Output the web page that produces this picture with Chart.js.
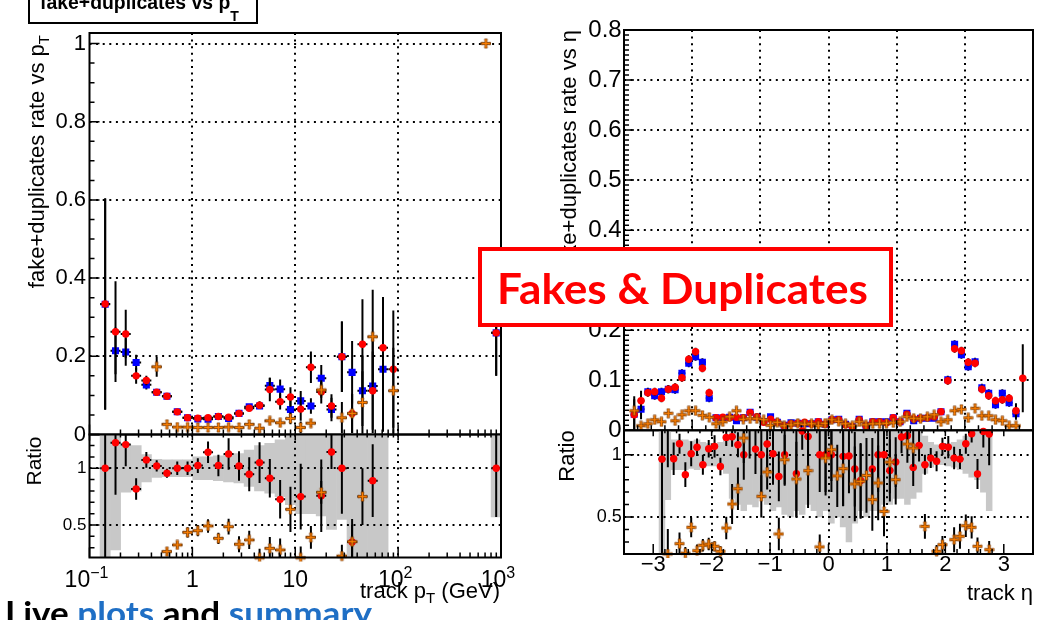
<!DOCTYPE html>
<html>
<head>
<meta charset="utf-8">
<title>Fakes &amp; Duplicates</title>
<script src="https://cdn.jsdelivr.net/npm/chart.js@4.4.1/dist/chart.umd.min.js"></script>
<style>
  html, body { margin: 0; padding: 0; background: #fff; }
  #page { position: relative; width: 1062px; height: 620px; overflow: hidden; background: #fff; }
  #page canvas { position: absolute; left: 0; top: 0; }
  #ov { position: absolute; left: 0; top: 0; pointer-events: none; }
</style>
</head>
<body>
<div id="page">
  <canvas id="ptTop" width="1062" height="620"></canvas>
  <canvas id="ptRatio" width="1062" height="620"></canvas>
  <canvas id="etaTop" width="1062" height="620"></canvas>
  <canvas id="etaRatio" width="1062" height="620"></canvas>
  <svg id="ov" width="1062" height="620" font-family="'Liberation Sans', Arial, Helvetica, sans-serif">
    <defs>
      <clipPath id="clipLeft"><rect x="22" y="0" width="480" height="620"/></clipPath>
      <clipPath id="clipRight"><rect x="560" y="0" width="502" height="620"/></clipPath>
    </defs>
    <!-- histogram title box -->
    <rect x="29" y="-10" width="228" height="33" fill="#fff" stroke="#000" stroke-width="2"/>
    <text x="40" y="9" font-size="19.4" font-weight="bold">fake+duplicates vs p<tspan font-size="14" dy="12">T</tspan></text>
    <!-- axis titles -->
    <g clip-path="url(#clipLeft)">
      <text transform="translate(44,35) rotate(-90)" text-anchor="end" font-size="22">fake+duplicates rate vs p<tspan font-size="15" dy="5">T</tspan></text>
    </g>
    <text transform="translate(41,461) rotate(-90)" text-anchor="middle" font-size="21">Ratio</text>
    <text x="500" y="598" text-anchor="end" font-size="22">track p<tspan font-size="15" dy="5">T</tspan><tspan dy="-5"> (GeV)</tspan></text>
    <g clip-path="url(#clipRight)">
      <text transform="translate(576,30) rotate(-90)" text-anchor="end" font-size="22">fake+duplicates rate vs η</text>
    </g>
    <text transform="translate(574,456) rotate(-90)" text-anchor="middle" font-size="22">Ratio</text>
    <text x="1033" y="600" text-anchor="end" font-size="22">track η</text>
    <!-- slide annotations -->
    <rect x="480" y="249" width="411" height="76" fill="#fff" stroke="#ff0000" stroke-width="4"/>
    <text x="497" y="304" font-family="Lato, 'Open Sans', sans-serif" font-weight="bold" font-size="42" fill="#ff0000" textLength="371" lengthAdjust="spacingAndGlyphs">Fakes &amp; Duplicates</text>
    <text x="5" y="625" font-family="Lato, 'Open Sans', sans-serif" font-weight="bold" font-size="32" textLength="367" lengthAdjust="spacingAndGlyphs"><tspan fill="#000">Live </tspan><tspan fill="#1f6fc5">plots</tspan><tspan fill="#000"> and </tspan><tspan fill="#1f6fc5">summary</tspan></text>
  </svg>
</div>
<script>
// ---------------- track pT binning (GeV, bin centres) and axis labels ----------------
const ptBins = [0.142, 0.179, 0.225, 0.284, 0.357, 0.450, 0.566, 0.713, 0.898, 1.13,
                1.42, 1.79, 2.25, 2.84, 3.57, 4.50, 5.66, 7.13, 8.98, 11.3,
                14.2, 17.9, 22.5, 28.4, 35.7, 45.0, 56.6, 71.3, 89.8, 713, 898];
const ptTickValues = [0.1, 1, 10, 100, 1000];
const ptTickBase   = ['10', '1', '10', '10', '10'];
const ptTickExp    = ['−1', '', '', '2', '3'];

// fake+duplicates rate vs pT: reference (blue), new (red), alternative (orange)
const ratePtRef = [0.333, 0.214, 0.211, 0.184, 0.127, 0.108, 0.098, 0.058, 0.043, 0.040,
                   0.039, 0.046, 0.041, 0.054, 0.071, 0.073, 0.125, 0.116, 0.064, 0.086,
                   0.073, 0.144, 0.064, 0.199, 0.159, 0.112, 0.124, 0.167, null, null, 0.26];
const errPtRef  = [0.27, 0.06, 0.035, 0.02, 0.012, 0.008, 0.006, 0.004, 0.003, 0.003,
                   0.003, 0.003, 0.003, 0.004, 0.006, 0.008, 0.02, 0.025, 0.025, 0.025,
                   0.02, 0.034, 0.03, 0.09, 0.08, 0.09, 0.12, 0.16, null, null, 0.11];
const ratePtNew = [0.334, 0.263, 0.257, 0.150, 0.138, 0.108, 0.098, 0.058, 0.043, 0.042,
                   0.043, 0.046, 0.044, 0.054, 0.067, 0.075, 0.115, 0.084, 0.096, 0.065,
                   0.172, 0.109, 0.073, 0.199, 0.054, 0.231, 0.112, 0.222, 0.167, null, 0.26];
const errPtNew  = [0.27, 0.129, 0.062, 0.02, 0.012, 0.008, 0.006, 0.004, 0.003, 0.003,
                   0.003, 0.003, 0.003, 0.004, 0.008, 0.01, 0.03, 0.02, 0.025, 0.03,
                   0.04, 0.03, 0.03, 0.09, 0.05, 0.115, 0.1, 0.13, 0.15, null, 0.11];
const ratePtAlt = [null, null, null, null, null, 0.173, 0.026, 0.019, 0.019, 0.018,
                   0.018, 0.018, 0.019, 0.018, 0.026, 0.016, 0.035, 0.030, 0.041, 0.018,
                   0.029, 0.114, null, 0.043, 0.054, 0.082, 0.250, null, 0.112, 1.0, null];
const errPtAlt  = [null, null, null, null, null, 0.025, 0.004, 0.003, 0.003, 0.003,
                   0.003, 0.003, 0.003, 0.003, 0.005, 0.004, 0.008, 0.008, 0.015, 0.015,
                   0.01, 0.02, null, 0.04, 0.05, 0.08, 0.12, null, 0.11, 0.0, null];

// ratio to reference vs pT, and relative reference uncertainty (grey band)
const ratioPtNew    = [1.0, 1.226, 1.209, 0.818, 1.074, 1.021, 0.956, 1.0, 1.0, 1.024,
                       1.141, 1.024, 1.126, 1.02, 0.947, 1.05, 0.912, 0.726, 1.5, 0.75,
                       2.36, 0.757, 1.144, 1.0, 0.35, 2.06, 0.891, null, null, null, 1.0];
const errRatioPtNew = [1.0, 0.46, 0.19, 0.095, 0.07, 0.05, 0.04, 0.06, 0.06, 0.065,
                       0.095, 0.095, 0.14, 0.13, 0.15, 0.18, 0.17, 0.17, 0.15, 0.29,
                       0.5, 0.32, 0.15, 0.4, 0.15, 0.5, 0.32, null, null, null, 0.43];
const ratioPtAlt    = [null, null, null, null, null, null, 0.265, 0.324, 0.435, 0.45,
                       0.491, 0.382, 0.485, 0.33, 0.368, 0.21, 0.294, 0.28, 0.638, 0.21,
                       0.391, 0.788, null, 0.226, 0.353, 0.75, null, null, null, null, null];
const errRatioPtAlt = [null, null, null, null, null, null, 0.03, 0.03, 0.045, 0.05,
                       0.06, 0.05, 0.07, 0.07, 0.08, 0.08, 0.1, 0.1, 0.2, 0.1,
                       0.1, 0.1, null, 0.1, 0.2, 0.25, null, null, null, null, null];
const bandPt        = [1.0, 0.72, 0.21, 0.2, 0.12, 0.08, 0.075, 0.075, 0.075, 0.1,
                       0.1, 0.11, 0.12, 0.13, 0.16, 0.2, 0.22, 0.25, 0.32, 0.4,
                       0.4, 0.42, 0.54, 0.45, 0.9, 0.9, 0.9, 0.9, null, null, 0.43];

// ---------------- track eta binning (bin centres) ----------------
const etaBins = [-2.85, -2.75, -2.65, -2.55, -2.45, -2.35, -2.25, -2.15, -2.05, -1.95,
                 -1.85, -1.75, -1.65, -1.55, -1.45, -1.35, -1.25, -1.15, -1.05, -0.95,
                 -0.85, -0.75, -0.65, -0.55, -0.45, -0.35, -0.25, -0.15, -0.05, 0.05,
                 0.15, 0.25, 0.35, 0.45, 0.55, 0.65, 0.75, 0.85, 0.95, 1.05,
                 1.15, 1.25, 1.35, 1.45, 1.55, 1.65, 1.75, 1.85, 1.95, 2.05,
                 2.15, 2.25, 2.35, 2.45, 2.55, 2.65, 2.75, 2.85];

const rateEtaRef = [0.032, 0.042, 0.077, 0.069, 0.077, 0.082, 0.081, 0.114, 0.134, 0.147,
                    0.136, 0.064, 0.025, 0.024, 0.026, 0.019, 0.025, 0.036, 0.026, 0.017,
                    0.027, 0.016, 0.010, 0.015, 0.014, 0.013, 0.013, 0.017, 0.012, 0.021,
                    0.022, 0.012, 0.007, 0.022, 0.010, 0.017, 0.017, 0.017, 0.025, 0.017,
                    0.034, 0.019, 0.024, 0.024, 0.024, 0.037, 0.101, 0.172, 0.151, 0.127,
                    0.137, 0.085, 0.074, 0.051, 0.074, 0.055, 0.033, null];
const errEtaRef  = [0.03, 0.02, 0.008, 0.008, 0.008, 0.008, 0.008, 0.008, 0.008, 0.008,
                    0.008, 0.008, 0.005, 0.005, 0.005, 0.005, 0.005, 0.005, 0.005, 0.005,
                    0.005, 0.005, 0.005, 0.005, 0.005, 0.005, 0.005, 0.005, 0.005, 0.005,
                    0.005, 0.005, 0.005, 0.005, 0.005, 0.005, 0.005, 0.005, 0.005, 0.005,
                    0.005, 0.005, 0.005, 0.005, 0.005, 0.006, 0.008, 0.008, 0.008, 0.008,
                    0.008, 0.008, 0.008, 0.008, 0.008, 0.008, 0.012, null];
const rateEtaNew = [0.031, 0.059, 0.075, 0.077, 0.064, 0.082, 0.086, 0.105, 0.142, 0.157,
                    0.124, 0.075, 0.025, 0.026, 0.025, 0.026, 0.025, 0.035, 0.027, 0.016,
                    0.022, 0.016, 0.009, 0.013, 0.014, 0.016, 0.013, 0.017, 0.012, 0.021,
                    0.021, 0.011, 0.007, 0.021, 0.009, 0.017, 0.017, 0.015, 0.025, 0.017,
                    0.032, 0.023, 0.024, 0.025, 0.027, 0.037, 0.099, 0.163, 0.159, 0.136,
                    0.134, 0.082, 0.069, 0.059, 0.061, 0.064, 0.039, 0.104];
const errEtaNew  = [0.037, 0.02, 0.008, 0.008, 0.008, 0.008, 0.008, 0.008, 0.008, 0.008,
                    0.008, 0.008, 0.005, 0.005, 0.005, 0.005, 0.005, 0.005, 0.005, 0.005,
                    0.005, 0.005, 0.005, 0.005, 0.005, 0.005, 0.005, 0.005, 0.005, 0.005,
                    0.005, 0.005, 0.005, 0.005, 0.005, 0.005, 0.005, 0.005, 0.005, 0.005,
                    0.005, 0.005, 0.005, 0.005, 0.005, 0.006, 0.008, 0.008, 0.008, 0.008,
                    0.008, 0.008, 0.008, 0.008, 0.008, 0.008, 0.015, 0.068];
const rateEtaAlt = [0.039, 0.009, 0.013, 0.021, 0.017, 0.034, 0.019, 0.031, 0.039, 0.039,
                    0.030, 0.026, 0.013, 0.017, 0.027, 0.039, 0.022, 0.023, 0.023, 0.021,
                    0.010, 0.016, 0.009, 0.011, 0.014, 0.012, 0.013, 0.009, 0.014, 0.021,
                    0.018, 0.013, 0.009, 0.017, 0.011, 0.013, 0.013, 0.014, 0.015, 0.017,
                    0.027, 0.024, 0.023, 0.027, 0.031, 0.017, 0.021, 0.039, 0.042, 0.025,
                    0.044, 0.029, 0.029, 0.021, 0.019, 0.009, 0.009, null];
const errEtaAlt  = [0.006, 0.004, 0.004, 0.004, 0.004, 0.004, 0.004, 0.004, 0.004, 0.004,
                    0.004, 0.004, 0.004, 0.004, 0.004, 0.004, 0.004, 0.004, 0.004, 0.004,
                    0.004, 0.004, 0.004, 0.004, 0.004, 0.004, 0.004, 0.004, 0.004, 0.004,
                    0.004, 0.004, 0.004, 0.004, 0.004, 0.004, 0.004, 0.004, 0.004, 0.004,
                    0.004, 0.004, 0.004, 0.004, 0.004, 0.004, 0.004, 0.004, 0.004, 0.004,
                    0.004, 0.004, 0.004, 0.004, 0.004, 0.004, 0.004, null];

const ratioEtaNew    = [0.965, 1.40, 0.968, 1.088, 0.84, 1.008, 1.06, 0.92, 1.048, 1.067,
                        0.906, 1.139, 1.144, 1.08, 1.0, 1.37, 1.045, 1.0, 1.086, 1.008,
                        0.826, 1.0, null, 0.848, 1.19, 1.147, null, 1.0, 1.0, 1.0,
                        null, 0.987, 0.99, 0.885, 0.794, null, 0.885, 1.0, 1.0, 0.874,
                        0.941, 1.142, 1.152, 0.898, 1.075, 0.92, 0.973, 0.947, 1.067, 1.061,
                        0.973, 0.965, 1.088, 1.168, 0.845, 1.187, 1.166, null];
const errRatioEtaNew = [0.8, 0.5, 0.13, 0.08, 0.1, 0.1, 0.07, 0.08, 0.07, 0.09,
                        0.07, 0.07, 0.08, 0.1, 0.2, 0.4, 0.2, 0.3, 0.22, 0.25,
                        0.2, 0.25, null, 0.35, 0.15, 0.3, null, 0.3, 0.3, 0.3,
                        null, 0.4, 0.3, 0.3, 0.3, null, 0.25, 0.3, 0.3, 0.25,
                        0.2, 0.13, 0.1, 0.15, 0.13, 0.08, 0.08, 0.08, 0.07, 0.09,
                        0.09, 0.08, 0.08, 0.07, 0.12, 0.13, 0.25, null];
const ratioEtaAlt    = [null, 0.203, null, 0.286, 0.21, 0.417, 0.23, 0.273, 0.283, 0.265,
                        0.225, 0.412, 0.604, 0.727, 1.134, null, null, 0.666, 0.861, null,
                        0.364, 0.96, null, 0.805, null, 0.872, null, 0.26, 0.973, 1.04,
                        0.83, 0.888, null, 0.765, 0.786, 0.834, 0.639, 0.773, 0.545, 0.941,
                        0.8, null, 1.086, 1.053, null, 0.425, null, 0.225, 0.278, null,
                        0.318, 0.345, 0.43, 0.417, 0.265, null, 0.238, null];
const errRatioEtaAlt = [null, 0.2, null, 0.09, 0.05, 0.08, 0.05, 0.05, 0.05, 0.04,
                        0.04, 0.09, 0.16, 0.17, 0.2, null, null, 0.17, 0.14, null,
                        0.13, 0.2, null, 0.3, null, 0.3, null, 0.1, 0.3, 0.25,
                        0.25, 0.3, null, 0.3, 0.3, 0.3, 0.25, 0.3, 0.2, 0.25,
                        0.2, null, 0.15, 0.15, null, 0.1, null, 0.05, 0.07, null,
                        0.1, 0.1, 0.09, 0.09, 0.07, null, 0.07, null];
const bandEta        = [0.85, 0.36, 0.12, 0.12, 0.12, 0.11, 0.12, 0.10, 0.09, 0.09,
                        0.10, 0.15, 0.35, 0.40, 0.45, 0.40, 0.42, 0.35, 0.40, 0.45,
                        0.42, 0.48, 0.50, 0.45, 0.48, 0.40, 0.45, 0.50, 0.45, 0.55,
                        0.50, 0.58, 0.70, 0.55, 0.45, 0.50, 0.45, 0.45, 0.40, 0.40,
                        0.35, 0.35, 0.40, 0.35, 0.30, 0.15, 0.10, 0.08, 0.08, 0.09,
                        0.10, 0.12, 0.15, 0.18, 0.20, 0.30, 0.45, null];

// ---------------- helpers ----------------
const FONT = "'Liberation Sans', Arial, Helvetica, sans-serif";
const BLUE = '#0000ff', RED = '#ff0000', ORANGE = '#ff8000', BAND = '#c8c8c8';

function points(xs, ys, es) {
  const out = [];
  xs.forEach((x, i) => { if (ys[i] != null) out.push({ x: x, y: ys[i], e: es ? es[i] : null }); });
  return out;
}
function bandBars(xs, es) {
  const out = [];
  xs.forEach((x, i) => { if (es[i] != null) out.push({ x: x, y: [1 - es[i], 1 + es[i]] }); });
  return out;
}
function range(a, b, step) {
  const out = [];
  for (let v = a; v <= b + 1e-9; v += step) out.push(Math.round(v * 1e6) / 1e6);
  return out;
}
function logMinors(lo, hi) {
  const out = [];
  for (let d = lo; d < hi; d *= 10) for (let k = 2; k <= 9; k++) out.push(d * k);
  return out;
}

// orange full-cross marker
const crossMarker = (() => {
  const c = document.createElement('canvas');
  c.width = 11; c.height = 11;
  const g = c.getContext('2d');
  g.translate(5.5, 5.5);
  const L = 4.6, w = 1.35, m = 1.7;
  g.beginPath();
  g.moveTo(-w, -L); g.lineTo(w, -L); g.lineTo(m * 0.6, -m * 0.6); g.lineTo(L, -w); g.lineTo(L, w);
  g.lineTo(m * 0.6, m * 0.6); g.lineTo(w, L); g.lineTo(-w, L); g.lineTo(-m * 0.6, m * 0.6); g.lineTo(-L, w);
  g.lineTo(-L, -w); g.lineTo(-m * 0.6, -m * 0.6); g.closePath();
  g.fillStyle = ORANGE; g.fill();
  g.lineWidth = 0.7; g.strokeStyle = '#7a3800'; g.stroke();
  return c;
})();

// ROOT-like pad: dotted grid, error bars, frame and inward tick marks
function clipArea(ctx, a) {
  ctx.beginPath();
  ctx.rect(a.left, a.top, a.right - a.left, a.bottom - a.top);
  ctx.clip();
}
function drawGrid(chart, o) {
  const { ctx, chartArea: a } = chart;
  const xs = chart.scales.x, ys = chart.scales.y;
  ctx.save();
  clipArea(ctx, a);
  ctx.strokeStyle = '#000';
  ctx.lineWidth = 2;
  ctx.setLineDash([2, 4.6]);
  ctx.beginPath();
  (o.gridX || []).forEach(v => {
    const p = Math.round(xs.getPixelForValue(v));
    ctx.moveTo(p, a.top); ctx.lineTo(p, a.bottom);
  });
  (o.gridY || []).forEach(v => {
    const p = Math.round(ys.getPixelForValue(v));
    ctx.moveTo(a.left, p); ctx.lineTo(a.right, p);
  });
  ctx.stroke();
  ctx.restore();
}
function drawErrors(chart, ds, o) {
  const { ctx, chartArea: a } = chart;
  const xs = chart.scales.x, ys = chart.scales.y;
  ctx.save();
  clipArea(ctx, a);
  ctx.strokeStyle = '#000';
  ctx.lineWidth = 2;
  ctx.beginPath();
  ds.data.forEach(d => {
    if (d.e == null) return;
    const px = xs.getPixelForValue(d.x), py = ys.getPixelForValue(d.y);
    ctx.moveTo(px, ys.getPixelForValue(d.y - d.e));
    ctx.lineTo(px, ys.getPixelForValue(d.y + d.e));
    ctx.moveTo(px - o.binHalf, py);
    ctx.lineTo(px + o.binHalf, py);
  });
  ctx.stroke();
  ctx.restore();
}
function drawFrame(chart, o) {
  const { ctx, chartArea: a } = chart;
  const xs = chart.scales.x, ys = chart.scales.y;
  ctx.save();
  ctx.strokeStyle = '#000';
  ctx.setLineDash([]);
  ctx.lineWidth = 1.5;
  ctx.beginPath();
  const yTick = (v, len) => {
    const p = ys.getPixelForValue(v);
    if (p < a.top - 0.5 || p > a.bottom + 0.5) return;
    ctx.moveTo(a.left, p); ctx.lineTo(a.left + len, p);
  };
  const xTick = (v, len) => {
    const p = xs.getPixelForValue(v);
    if (p < a.left - 0.5 || p > a.right + 0.5) return;
    ctx.moveTo(p, a.bottom); ctx.lineTo(p, a.bottom - len);
    if (o.xTop) { ctx.moveTo(p, a.top); ctx.lineTo(p, a.top + len * 0.6); }
  };
  o.yMajor.forEach(v => yTick(v, 10));
  o.yMinor.forEach(v => yTick(v, 5));
  o.xMajor.forEach(v => xTick(v, 10));
  o.xMinor.forEach(v => xTick(v, 5));
  ctx.stroke();
  ctx.lineWidth = 2;
  ctx.strokeRect(a.left, a.top, a.right - a.left, a.bottom - a.top);
  ctx.restore();
}
// power-of-ten labels under a logarithmic axis ("10" with a raised exponent)
function drawPowerLabels(chart, o) {
  if (!o.powerLabels) return;
  const { ctx, chartArea: a } = chart;
  const xs = chart.scales.x;
  const L = o.powerLabels;
  ctx.save();
  ctx.fillStyle = '#000';
  ctx.textBaseline = 'alphabetic';
  ctx.textAlign = 'left';
  L.values.forEach((v, i) => {
    const px = xs.getPixelForValue(v);
    ctx.font = L.baseSize + 'px ' + FONT;
    const wb = ctx.measureText(L.base[i]).width;
    ctx.font = L.expSize + 'px ' + FONT;
    const we = L.exp[i] ? ctx.measureText(L.exp[i]).width : 0;
    const x0 = px - (wb + we) / 2 + (L.exp[i] ? L.shift : 0);
    ctx.font = L.baseSize + 'px ' + FONT;
    ctx.fillText(L.base[i], x0, a.bottom + L.baseDrop);
    if (L.exp[i]) {
      ctx.font = L.expSize + 'px ' + FONT;
      ctx.fillText(L.exp[i], x0 + wb, a.bottom + L.expDrop);
    }
  });
  ctx.restore();
}
const rootPad = {
  id: 'rootPad',
  beforeDatasetsDraw(chart, args, o) {
    if (!chart.data.datasets.some(d => d.type === 'bar')) drawGrid(chart, o);
  },
  afterDatasetDraw(chart, args, o) {
    if (chart.data.datasets[args.index].type === 'bar') drawGrid(chart, o);
  },
  beforeDatasetDraw(chart, args, o) {
    const ds = chart.data.datasets[args.index];
    if (ds.type !== 'bar') drawErrors(chart, ds, o);
  },
  afterDatasetsDraw(chart, args, o) { drawFrame(chart, o); },
  afterDraw(chart, args, o) { drawPowerLabels(chart, o); }
};

const AXW = 60, AXH = 40;
function makePad(id, box, xCfg, yCfg, datasets, frame) {
  const xShown = xCfg.display !== false, yShown = yCfg.display !== false;
  const padding = {
    left: box.l - (yShown ? AXW : 0),
    top: box.t,
    right: 1062 - box.r,
    bottom: 620 - box.b - (xShown ? AXH : 0)
  };
  const axisCommon = {
    grid: { display: false, drawTicks: false },
    border: { display: false }
  };
  const xAxis = Object.assign({}, axisCommon, xCfg);
  const yAxis = Object.assign({}, axisCommon, yCfg);
  if (xShown) xAxis.afterFit = s => { s.height = AXH; };
  if (yShown) yAxis.afterFit = s => { s.width = AXW; };
  return new Chart(document.getElementById(id), {
    type: 'scatter',
    data: { datasets: datasets },
    options: {
      responsive: false,
      animation: false,
      events: [],
      layout: { padding: padding },
      plugins: { legend: { display: false }, tooltip: { enabled: false }, rootPad: frame },
      scales: { x: xAxis, y: yAxis }
    },
    plugins: [rootPad]
  });
}
function fixedTicks(values) {
  return s => { s.ticks = values.map(v => ({ value: v })); };
}
function markerSets(xs, ref, eRef, nw, eNw, alt, eAlt) {
  const sets = [];
  if (ref) sets.push({ type: 'scatter', label: 'reference', data: points(xs, ref, eRef), pointStyle: 'rect',
    pointRadius: 5, backgroundColor: BLUE, borderColor: BLUE, borderWidth: 0, order: 3,
    clip: { left: 0, right: 0, top: 4, bottom: 4 } });
  sets.push({ type: 'scatter', label: 'new', data: points(xs, nw, eNw), pointStyle: 'circle',
    pointRadius: 3.7, backgroundColor: RED, borderColor: RED, borderWidth: 0, order: 2,
    clip: { left: 0, right: 0, top: 4, bottom: 4 } });
  sets.push({ type: 'scatter', label: 'alternative', data: points(xs, alt, eAlt), pointStyle: crossMarker,
    pointRadius: 5, backgroundColor: ORANGE, borderColor: ORANGE, order: 1,
    clip: { left: 0, right: 0, top: 4, bottom: 4 } });
  return sets;
}

// ---------------- pT pads ----------------
makePad('ptTop', { l: 89.5, t: 33, r: 501, b: 434.5 },
  { type: 'logarithmic', min: 0.1, max: 1000, display: false },
  { type: 'linear', min: 0, max: 1.027, afterBuildTicks: fixedTicks([0, 0.2, 0.4, 0.6, 0.8, 1]),
    ticks: { callback: v => (v === 0 || v === 1) ? String(v) : v.toFixed(1), color: '#000', padding: 3.5,
             font: { family: FONT, size: 22, lineHeight: 1 } } },
  markerSets(ptBins, ratePtRef, errPtRef, ratePtNew, errPtNew, ratePtAlt, errPtAlt),
  { gridX: [1, 10, 100], gridY: [0.2, 0.4, 0.6, 0.8, 1.0], binHalf: 5,
    yMajor: range(0, 1, 0.2), yMinor: range(0, 1.02, 0.05),
    xMajor: ptTickValues, xMinor: logMinors(0.1, 1000), xTop: false });

makePad('ptRatio', { l: 89.5, t: 434.5, r: 501, b: 557.5 },
  { type: 'logarithmic', min: 0.1, max: 1000, afterBuildTicks: fixedTicks(ptTickValues),
    ticks: { display: false } },
  { type: 'linear', min: 0.213, max: 1.298, afterBuildTicks: fixedTicks([0.5, 1]),
    ticks: { callback: v => String(v), color: '#000', padding: 3, font: { family: FONT, size: 17, lineHeight: 1 } } },
  [{ type: 'bar', label: 'reference uncertainty', data: bandBars(ptBins, bandPt), backgroundColor: BAND,
     borderWidth: 0, barPercentage: 1, categoryPercentage: 1, grouped: false, clip: 0, order: 10 }]
    .concat(markerSets(ptBins, null, null, ratioPtNew, errRatioPtNew, ratioPtAlt, errRatioPtAlt)),
  { gridX: [1, 10, 100], gridY: [0.5, 1], binHalf: 5,
    yMajor: [0.5, 1], yMinor: range(0.3, 1.2, 0.1),
    xMajor: ptTickValues, xMinor: logMinors(0.1, 1000), xTop: true,
    powerLabels: { values: ptTickValues, base: ptTickBase, exp: ptTickExp,
                   baseSize: 23, expSize: 16, baseDrop: 29.5, expDrop: 20.5, shift: -3 } });

// ---------------- eta pads ----------------
makePad('etaTop', { l: 624, t: 30, r: 1033, b: 430.3 },
  { type: 'linear', min: -3, max: 3, display: false },
  { type: 'linear', min: 0, max: 0.8, afterBuildTicks: fixedTicks(range(0, 0.8, 0.1)),
    ticks: { callback: v => v === 0 ? '0' : v.toFixed(1), color: '#000', padding: 2.3,
             font: { family: FONT, size: 24, lineHeight: 1 } } },
  markerSets(etaBins, rateEtaRef, errEtaRef, rateEtaNew, errEtaNew, rateEtaAlt, errEtaAlt),
  { gridX: [-2, -1, 0, 1, 2], gridY: range(0.1, 0.7, 0.1), binHalf: 3.4,
    yMajor: range(0, 0.8, 0.1), yMinor: range(0, 0.8, 0.01),
    xMajor: range(-3, 3, 1), xMinor: range(-3, 3, 0.2), xTop: false });

makePad('etaRatio', { l: 624, t: 430.3, r: 1033, b: 554 },
  { type: 'linear', min: -3, max: 3, afterBuildTicks: fixedTicks(range(-3, 3, 1)),
    ticks: { callback: v => (v < 0 ? '−' + Math.abs(v) : String(v)), color: '#000', padding: 0,
             maxRotation: 0, minRotation: 0, autoSkip: false, font: { family: FONT, size: 22, lineHeight: 1 } } },
  { type: 'linear', min: 0.203, max: 1.196, afterBuildTicks: fixedTicks([0.5, 1]),
    ticks: { callback: v => String(v), color: '#000', padding: 2.3, font: { family: FONT, size: 18, lineHeight: 1 } } },
  [{ type: 'bar', label: 'reference uncertainty', data: bandBars(etaBins, bandEta), backgroundColor: BAND,
     borderWidth: 0, barPercentage: 1, categoryPercentage: 1, grouped: false, clip: 0, order: 10 }]
    .concat(markerSets(etaBins, null, null, ratioEtaNew, errRatioEtaNew, ratioEtaAlt, errRatioEtaAlt)),
  { gridX: [-2, -1, 0, 1, 2], gridY: [0.5, 1], binHalf: 3.4,
    yMajor: [0.5, 1], yMinor: range(0.3, 1.1, 0.1),
    xMajor: range(-3, 3, 1), xMinor: range(-3, 3, 0.2), xTop: true });
</script>
</body>
</html>
